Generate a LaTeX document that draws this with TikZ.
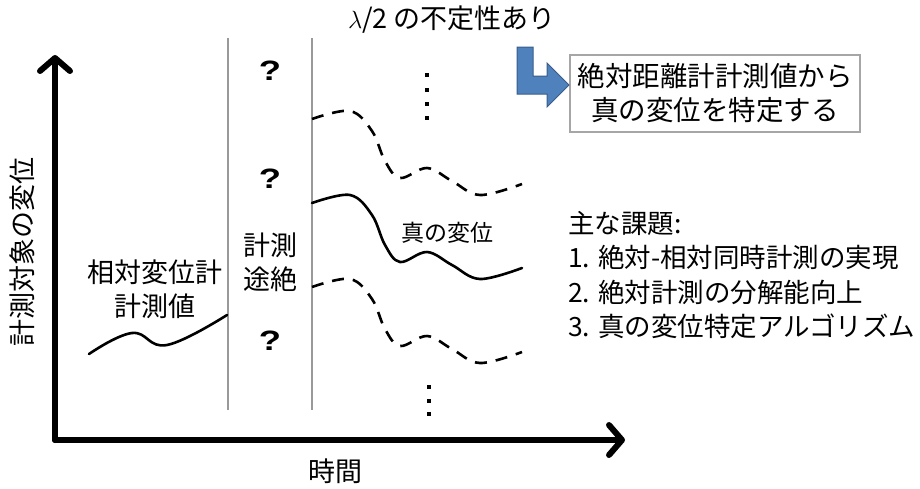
\documentclass[tikz,border=0pt]{standalone}
\usepackage{fontspec}
\setmainfont{Noto Sans CJK JP}
\newfontfamily\qfont{Liberation Sans}
\usetikzlibrary{arrows.meta}
\definecolor{arrowblue}{HTML}{4F81BD}
\definecolor{arrowedge}{HTML}{385D8A}
\begin{document}
\begin{tikzpicture}[x=1pt,y=-1pt,
  lab/.style={inner sep=0pt, font=\fontsize{27}{34}\selectfont},
  midlab/.style={inner sep=0pt, font=\fontsize{23}{28}\selectfont},
  qmark/.style={inner sep=0pt, xscale=1.3, font=\qfont\bfseries\fontsize{28}{30}\selectfont},
  axis/.style={line width=6pt, line cap=round, line join=round,
    -{Straight Barb[length=13pt,width=30pt,line cap=round,line join=round]}},
  divider/.style={line width=1.4pt, gray!80},
  curve/.style={line width=2.6pt, line cap=round},
  dcurve/.style={curve, dash pattern=on 12pt off 9pt, line cap=butt},
  msgbox/.style={draw=gray!70, line width=1.2pt, inner sep=0pt,
    minimum width=290pt, minimum height=77pt, align=center,
    font=\fontsize{27.5}{34}\selectfont},
  dotsq/.style={fill=black}
]
\useasboundingbox (0,0) rectangle (920,488);

% axes
\coordinate (origin) at (55,440);
\coordinate (ytip) at (55,55);
\coordinate (xtip) at (625,440);
\draw[axis] (origin) -- (ytip);
\draw[axis] (origin) -- (xtip);

% dividers
\coordinate (d1t) at (228,38);
\coordinate (d1b) at (228,410);
\coordinate (d2t) at (312,38);
\coordinate (d2b) at (312,410);
\draw[divider] (d1t) -- (d1b);
\draw[divider] (d2t) -- (d2b);

% axis labels
\node[lab, rotate=90] (ylab) at (22,252) {計測対象の変位};
\node[lab] (xlab) at (335,471) {時間};

% top label
\node[lab] (amb) at (452,20) {$\lambda$/2 の不定性あり};

% message box
\node[msgbox] (msg) at (715,93.5) {絶対距離計計測値から\\真の変位を特定する};

% blue L arrow
\filldraw[fill=arrowblue, draw=arrowedge, line width=1pt]
  (517,47) -- (533,47) -- (533,76) -- (547,76) -- (547,63) -- (569,85)
  -- (547,107) -- (547,94) -- (517,94) -- cycle;

% left curve
\draw[curve] plot[smooth, tension=0.7] coordinates {(89,354) (132,333) (167,345) (227,315)};

% true displacement curve and ambiguous copies
\def\truepath{plot[smooth, tension=0.6] coordinates {(312,203) (350,195) (372,215) (385,245) (400,262) (427,252) (452,265) (480,279) (522,268)}}
\draw[curve] \truepath;
\draw[dcurve, yshift=84pt] \truepath;
\draw[dcurve, yshift=-84pt] \truepath;

% labels
\node[lab, align=center] (rel) at (155,289) {相対変位計\\計測値};
\node[lab, align=center] (cut) at (270,262) {計測\\途絶};
\node[qmark] (q1) at (270,71) {?};
\node[qmark] (q2) at (270,179) {?};
\node[qmark] (q3) at (270,341) {?};
\node[midlab] (truelab) at (447,233) {真の変位};

% vertical ellipses
\foreach \yy in {75,90,104,118} \fill[dotsq] (425,\yy-2) rectangle (429,\yy+2);
\foreach \yy in {387,401,414} \fill[dotsq] (427,\yy-2) rectangle (431,\yy+2);

% task list
\node[inner sep=0pt, anchor=west, align=left, font=\fontsize{26.5}{34.5}\selectfont] (tasks) at (568,275)
  {主な課題:\\1. 絶対-相対同時計測の実現\\2. 絶対計測の分解能向上\\3. 真の変位特定アルゴリズム};
\end{tikzpicture}
\end{document}
